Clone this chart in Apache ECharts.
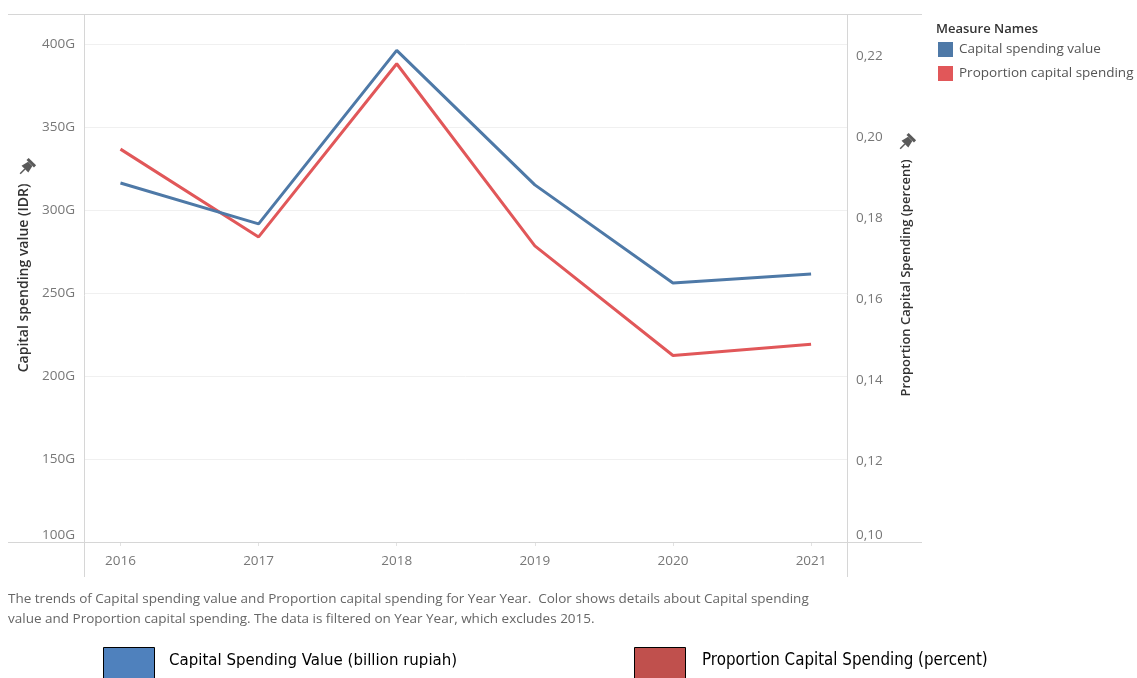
<!DOCTYPE html>
<html>
<head>
<meta charset="utf-8">
<script src="https://cdn.jsdelivr.net/npm/echarts@6/dist/echarts.min.js"></script>
<style>
html,body{margin:0;padding:0;background:#fff;}
#main{width:1137px;height:678px;}
</style>
</head>
<body>
<div id="main"></div>
<script>
// ---- data ----
var years = [2016, 2017, 2018, 2019, 2020, 2021];
var capitalValue = [316.2, 291.6, 396.1, 315.1, 256.0, 261.4];       // billion rupiah (G)
var capitalProportion = [0.1971, 0.1754, 0.2182, 0.1732, 0.1461, 0.1489]; // percent
var seriesNames = ['Capital spending value', 'Proportion capital spending'];
var captionLines = [
  'The trends of Capital spending value and Proportion capital spending for Year Year.  Color shows details about Capital spending',
  'value and Proportion capital spending. The data is filtered on Year Year, which excludes 2015.'
];
var bottomLegend = ['Capital Spending Value (billion rupiah)', 'Proportion Capital Spending (percent)'];

var FONT = '"Open Sans", "Noto Sans", sans-serif';
var NARROW = '"Liberation Sans Narrow", "DejaVu Sans Condensed", sans-serif';
var chart = echarts.init(document.getElementById('main'));

function pairs(vals) { return years.map(function (y, i) { return [y, vals[i]]; }); }

var frameColor = '#d6d6d6';
function pin(x, y) {
  return {
    type: 'group', x: x, y: y, rotation: -Math.PI / 4, scaleX: 1.5, scaleY: 1.5,
    children: [
      { type: 'rect', shape: { x: -3.5, y: -6, width: 7, height: 2 }, style: { fill: '#5a5a5a' } },
      { type: 'polygon', shape: { points: [[-2, -4], [2, -4], [3.2, 1], [-3.2, 1]] }, style: { fill: '#5a5a5a' } },
      { type: 'line', shape: { x1: 0, y1: 1, x2: 0, y2: 5.5 }, style: { stroke: '#5a5a5a', lineWidth: 1 } }
    ]
  };
}

var option = {
  backgroundColor: '#fff',
  animation: false,
  textStyle: { fontFamily: FONT },
  title: {
    text: 'Measure Names', left: 931, top: 18,
    textStyle: { fontFamily: FONT, fontSize: 13, fontWeight: 600, color: '#333' }
  },
  legend: {
    data: seriesNames, orient: 'vertical', left: 933, top: 37,
    icon: 'rect', itemWidth: 15, itemHeight: 15, itemGap: 9,
    textStyle: { fontFamily: FONT, fontSize: 13.5, color: '#555', padding: [0, 0, 0, 1] }
  },
  grid: { left: 84, right: 290, top: 14, bottom: 136 },
  xAxis: {
    type: 'value', min: 2015.736, max: 2021.26,
    axisLine: { show: false },
    axisTick: { show: true, customValues: years, length: 4, inside: false, lineStyle: { color: '#e2e2e2' } },
    axisLabel: {
      customValues: years, color: '#777', fontSize: 13.5, margin: 12, fontFamily: FONT,
      formatter: function (v) { return String(v); }
    },
    splitLine: { show: false }
  },
  yAxis: [
    {
      type: 'value', min: 100, max: 418, interval: 50, position: 'left',
      name: 'Capital spending value (IDR)', nameLocation: 'middle', nameGap: 51,
      nameTextStyle: { color: '#333', fontSize: 14, fontWeight: 600, fontFamily: FONT },
      axisLine: { show: false }, axisTick: { show: false },
      axisLabel: {
        color: '#777', fontSize: 13.5, margin: 9, fontFamily: FONT,
        showMaxLabel: false, verticalAlignMinLabel: 'bottom',
        formatter: function (v) { return Math.round(v) + 'G'; }
      },
      splitLine: { show: true, lineStyle: { color: '#f0f0f0', width: 1 } }
    },
    {
      type: 'value', min: 0.10, max: 0.2305, interval: 0.02, position: 'right',
      name: 'Proportion Capital Spending (percent)', nameLocation: 'middle', nameGap: 53,
      nameTextStyle: { color: '#333', fontSize: 13, fontWeight: 600, fontFamily: FONT },
      axisLine: { show: false }, axisTick: { show: false },
      axisLabel: {
        color: '#777', fontSize: 13.5, margin: 9, fontFamily: FONT,
        showMaxLabel: false, verticalAlignMinLabel: 'bottom',
        formatter: function (v) { return v.toFixed(2).replace('.', ','); }
      },
      splitLine: { show: false }
    }
  ],
  series: [
    {
      name: seriesNames[0], type: 'line', yAxisIndex: 0, data: pairs(capitalValue),
      showSymbol: false, symbol: 'none', color: '#4e79a7',
      lineStyle: { width: 3, color: '#4e79a7' }, z: 3
    },
    {
      name: seriesNames[1], type: 'line', yAxisIndex: 1, data: pairs(capitalProportion),
      showSymbol: false, symbol: 'none', color: '#e15759',
      lineStyle: { width: 3, color: '#e15759' }, z: 2
    }
  ],
  graphic: [
    { type: 'line', shape: { x1: 8, y1: 14.5, x2: 922, y2: 14.5 }, style: { stroke: frameColor, lineWidth: 1 }, z: 10 },
    { type: 'line', shape: { x1: 8, y1: 542.5, x2: 922, y2: 542.5 }, style: { stroke: frameColor, lineWidth: 1 }, z: 10 },
    { type: 'line', shape: { x1: 84.5, y1: 14, x2: 84.5, y2: 577 }, style: { stroke: frameColor, lineWidth: 1 }, z: 10 },
    { type: 'line', shape: { x1: 847.5, y1: 14, x2: 847.5, y2: 577 }, style: { stroke: frameColor, lineWidth: 1 }, z: 10 },
    pin(26, 168),
    pin(906, 143),
    { type: 'text', x: 8, y: 599, style: { text: captionLines[0], fill: '#666', font: '13.5px ' + FONT, verticalAlign: 'middle' } },
    { type: 'text', x: 8, y: 619, style: { text: captionLines[1], fill: '#666', font: '13.5px ' + FONT, verticalAlign: 'middle' } },
    { type: 'rect', shape: { x: 103.5, y: 647.5, width: 51, height: 40 }, style: { fill: '#4f81bd', stroke: '#000', lineWidth: 1 } },
    { type: 'rect', shape: { x: 634.5, y: 647.5, width: 51, height: 40 }, style: { fill: '#c0504d', stroke: '#000', lineWidth: 1 } },
    { type: 'text', x: 169, y: 661, style: { text: bottomLegend[0], fill: '#000', font: '16.7px ' + NARROW, verticalAlign: 'middle' } },
    { type: 'text', x: 702, y: 661, style: { text: bottomLegend[1], fill: '#000', font: '16.8px ' + NARROW, verticalAlign: 'middle' } }
  ]
};
chart.setOption(option);
</script>
</body>
</html>
